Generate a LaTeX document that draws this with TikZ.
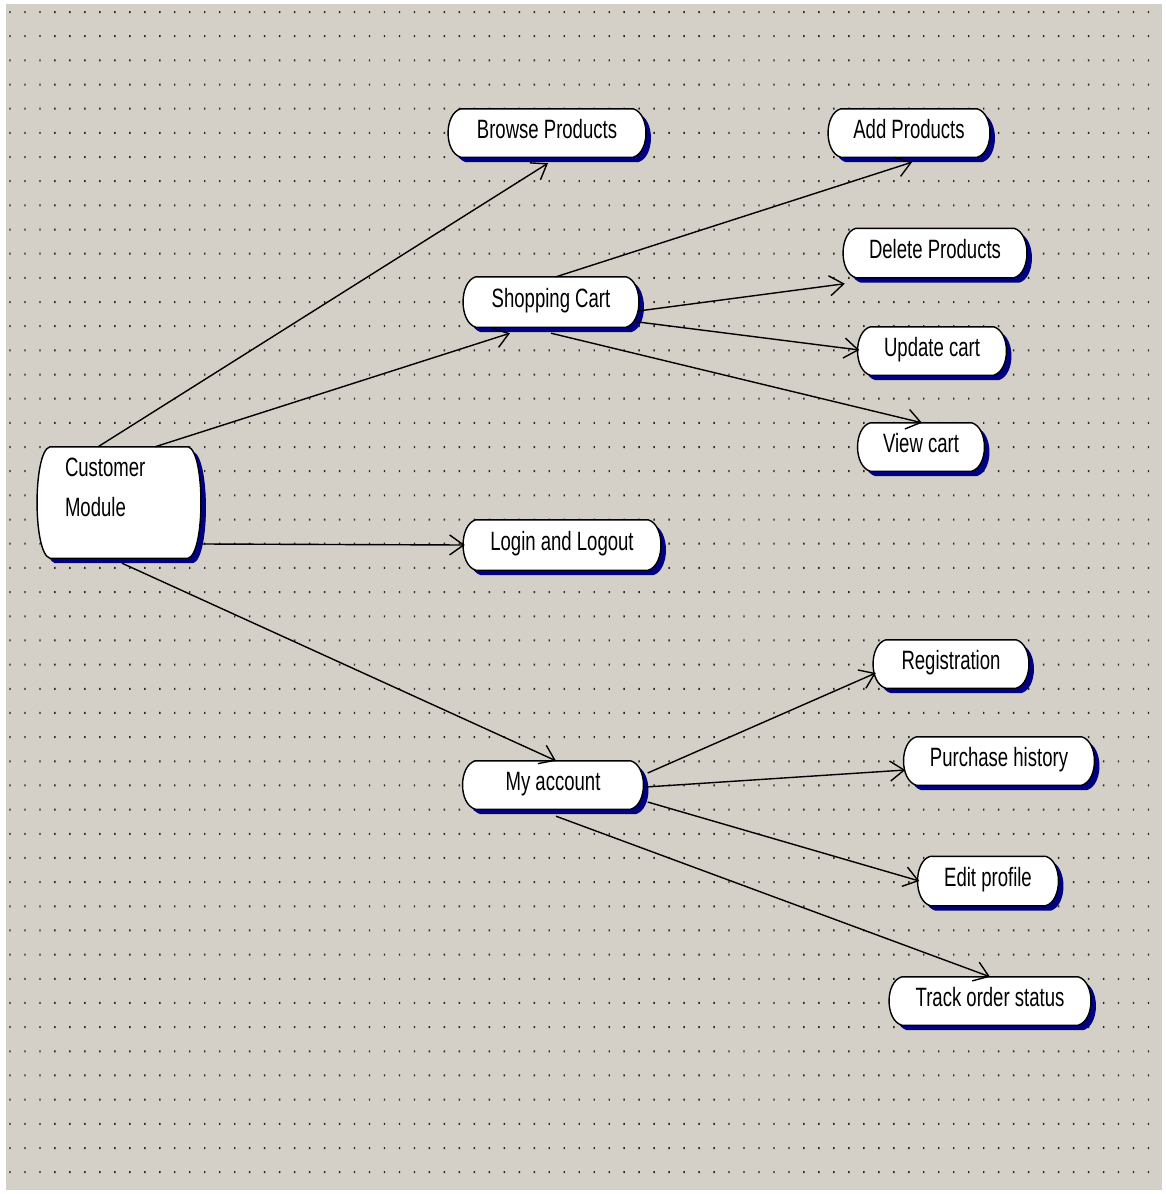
\documentclass[tikz,border=0pt]{standalone}
\usepackage{fontspec}
\setmainfont[FakeStretch=0.70]{Liberation Sans}
\usetikzlibrary{arrows.meta,calc}
\definecolor{bggray}{RGB}{212,208,200}
\definecolor{shadownavy}{RGB}{0,0,128}
\definecolor{dotcol}{RGB}{40,40,40}
\pgfdeclarelayer{gridlayer}
\pgfdeclarelayer{shapelayer}
\pgfsetlayers{gridlayer,shapelayer,main}
% #1 node name, #2 dx, #3 dy, #4 path options
\newcommand\ucshape[4]{%
  \path[#4] let \p1=(#1.north west), \p2=(#1.south east) in
    ({\x1+11pt+#2},{\y1+#3}) -- ({\x2-11pt+#2},{\y1+#3})
    .. controls ({\x2+6pt+#2},{\y1-5pt+#3}) and ({\x2+6pt+#2},{\y2+5pt+#3}) .. ({\x2-11pt+#2},{\y2+#3})
    -- ({\x1+11pt+#2},{\y2+#3})
    .. controls ({\x1-6pt+#2},{\y2+5pt+#3}) and ({\x1-6pt+#2},{\y1-5pt+#3}) .. ({\x1+11pt+#2},{\y1+#3})
    -- cycle;
}
\newcommand\ucbox[1]{%
  \ucshape{#1}{5pt}{-5pt}{fill=shadownavy}%
  \ucshape{#1}{0pt}{0pt}{fill=white,draw=black,line width=1.4pt}%
}
\tikzset{
  ucnode/.style={inner sep=0pt, font=\fontsize{26.5}{32}\selectfont,
    text height=19pt, text depth=9pt, minimum height=48},
  conn/.style={line width=1.4pt, black, -{Straight Barb[length=14pt,width=20pt]}}
}
\begin{document}
\begin{tikzpicture}[x=1pt,y=-1pt]
\useasboundingbox (0,0) rectangle (1165,1194);
\begin{pgfonlayer}{gridlayer}
  \fill[white] (0,0) rectangle (1165,1194);
  \fill[bggray] (6,4) rectangle (1162,1190);
  \foreach \j in {0,...,48} {
    \fill[dotcol] \foreach \i in {0,...,76} {
      ({10+\i*14.98-0.7},{12+\j*24.17-1}) rectangle ++(1.4,2) };
  }
\end{pgfonlayer}

% nodes
\node[ucnode, minimum width=194] (bp) at (547,133) {Browse Products};
\node[ucnode, minimum width=158] (ap) at (909,133) {Add Products};
\node[ucnode, minimum width=172, minimum height=50] (sc) at (551,302) {Shopping Cart};
\node[ucnode, minimum width=180, minimum height=49] (dp) at (935,253) {Delete Products};
\node[ucnode, minimum width=145] (uc) at (932,351) {Update cart};
\node[ucnode, minimum width=123] (vc) at (921,447) {View cart};
\node[ucnode, minimum width=160, minimum height=111] (cm) at (119,502.5) {};
\node[inner sep=0pt, anchor=north west, align=left, font=\fontsize{26.5}{32}\selectfont]
  (cmtext) at ($(cm.north west)+(26,11)$) {Customer\\[8pt]Module};
\node[ucnode, minimum width=194, minimum height=50] (ll) at (562,545) {Login and Logout};
\node[ucnode, minimum width=152] (rg) at (951,664) {Registration};
\node[ucnode, minimum width=187] (ph) at (999,761) {Purchase history};
\node[ucnode, minimum width=177] (ma) at (553,785) {My account};
\node[ucnode, minimum width=137, minimum height=49] (ep) at (988,881) {Edit profile};
\node[ucnode, minimum width=198] (ts) at (990,1001) {Track order status};

\begin{pgfonlayer}{shapelayer}
  \foreach \nd in {bp,ap,sc,dp,uc,vc,cm,ll,rg,ph,ma,ep,ts} { \ucbox{\nd} }
\end{pgfonlayer}

% connectors
\draw[conn] ($(cm.north)+(-21,0)$) -- ($(bp.south)+(1,6)$);
\draw[conn] ($(cm.north)+(36,0)$) -- ($(sc.south)+(-41,6)$);
\draw[conn] ($(cm.east)+(4,41.5)$) -- (ll.west);
\draw[conn] ($(cm.south)+(3,5)$) -- ($(ma.north)+(3,0)$);
\draw[conn] ($(sc.north)+(5,0)$) -- ($(ap.south)+(3,5)$);
\draw[conn] ($(sc.east)+(1,9)$) -- ($(dp.south west)+(0,6)$);
\draw[conn] ($(sc.east)+(1,20)$) -- ($(uc.west)+(0,-1)$);
\draw[conn] ($(sc.south)+(0,6)$) -- ($(vc.north)+(1,0)$);
\draw[conn] ($(ma.east)+(6,-12)$) -- ($(rg.west)+(1,9)$);
\draw[conn] ($(ma.east)+(4,2)$) -- ($(ph.west)+(0,9)$);
\draw[conn] ($(ma.east)+(6,17)$) -- (ep.west);
\draw[conn] ($(ma.south)+(3,7)$) -- (ts.north);
\end{tikzpicture}
\end{document}
